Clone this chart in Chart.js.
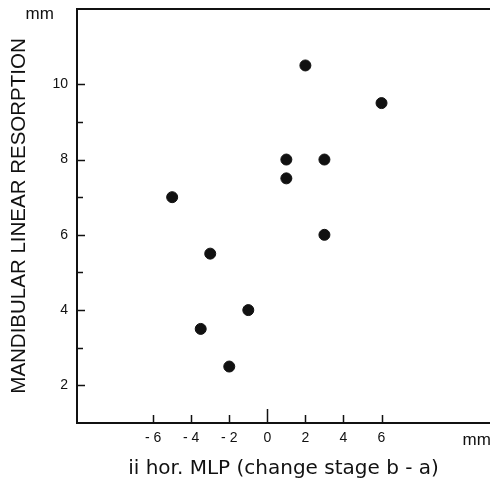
<!DOCTYPE html>
<html>
<head>
<meta charset="utf-8">
<script src="https://cdn.jsdelivr.net/npm/chart.js@4.4.0/dist/chart.umd.min.js"></script>
<style>
  html, body { margin: 0; padding: 0; background: #fff; }
  #wrap { width: 490px; height: 485px; }
</style>
</head>
<body>
<div id="wrap"><canvas id="c"></canvas></div>
<script>
// change stage b - a (mm) vs mandibular linear resorption (mm)
const changeBA   = [-5, -3, -3.5, -2, -1, 1, 1, 2, 3, 3, 6];
const resorption = [7, 5.5, 3.5, 2.5, 4, 8, 7.5, 10.5, 8, 6, 9.5];

const xTickValues = [-6, -4, -2, 0, 2, 4, 6];
const yTickValues = [2, 4, 6, 8, 10];
const yMinorTicks = [3, 5, 7, 9];
const unitLabel = 'mm';
const xUnitAt = 11;
const yUnitAt = 11.85;

const ink = '#111';
const fontFam = '"Liberation Sans", Arial, sans-serif';

// ticks pointing into the plot + top frame line
const insideTicks = {
    id: 'insideTicks',
    afterDraw(chart) {
        const { ctx, chartArea: a, scales: { x, y } } = chart;
        ctx.save();
        ctx.strokeStyle = ink;
        ctx.lineWidth = 1.5;
        ctx.beginPath();
        xTickValues.forEach(v => {
            const px = Math.round(x.getPixelForValue(v)) + 0.5;
            ctx.moveTo(px, a.bottom);
            ctx.lineTo(px, a.bottom - (v === 0 ? 14 : 8));
        });
        yTickValues.forEach(v => {
            const py = Math.round(y.getPixelForValue(v)) + 0.5;
            ctx.moveTo(a.left, py);
            ctx.lineTo(a.left + 8, py);
        });
        yMinorTicks.forEach(v => {
            const py = Math.round(y.getPixelForValue(v)) + 0.5;
            ctx.moveTo(a.left, py);
            ctx.lineTo(a.left + 6, py);
        });
        ctx.stroke();
        ctx.lineWidth = 2;
        ctx.beginPath();
        ctx.moveTo(a.left, a.top);
        ctx.lineTo(chart.width, a.top);
        ctx.stroke();
        ctx.restore();
    }
};

new Chart(document.getElementById('c'), {
    type: 'scatter',
    data: {
        datasets: [{
            data: changeBA.map((v, i) => ({ x: v, y: resorption[i] })),
            backgroundColor: ink,
            borderColor: ink,
            pointRadius: 5.5,
            pointHoverRadius: 5.5
        }]
    },
    options: {
        responsive: true,
        maintainAspectRatio: false,
        animation: false,
        layout: { autoPadding: false, padding: { top: 9, right: 0, left: 0, bottom: 0 } },
        plugins: { legend: { display: false }, tooltip: { enabled: false } },
        scales: {
            x: {
                type: 'linear',
                min: -10,
                max: 11.7,
                afterBuildTicks: s => { s.ticks = [...xTickValues, xUnitAt].map(v => ({ value: v })); },
                afterFit: s => { s.height = 62; s.paddingLeft = 0; s.paddingRight = 0; },
                grid: { drawOnChartArea: false, drawTicks: false },
                border: { color: ink, width: 2 },
                ticks: {
                    color: ink,
                    padding: 7,
                    autoSkip: false,
                    maxRotation: 0,
                    font: c => ({ family: fontFam, size: c.tick && c.tick.value === xUnitAt ? 17 : 14 }),
                    callback: v => v === xUnitAt ? unitLabel : (v < 0 ? '- ' + Math.abs(v) : String(v))
                },
                title: {
                    display: true,
                    text: 'ii hor. MLP (change stage b - a)',
                    color: ink,
                    font: { family: '"DejaVu Sans", sans-serif', size: 20 },
                    padding: { top: 0, bottom: 4 }
                }
            },
            y: {
                type: 'linear',
                min: 1,
                max: 12,
                afterBuildTicks: s => { s.ticks = [...yTickValues, yUnitAt].map(v => ({ value: v })); },
                afterFit: s => { s.width = 77; s.paddingTop = 0; s.paddingBottom = 0; },
                grid: { drawOnChartArea: false, drawTicks: false },
                border: { color: ink, width: 2 },
                ticks: {
                    color: ink,
                    padding: 9,
                    font: c => ({ family: fontFam, size: c.tick && c.tick.value === yUnitAt ? 17 : 14 }),
                    callback: v => v === yUnitAt ? unitLabel + '   ' : String(v)
                },
                title: {
                    display: true,
                    text: 'MANDIBULAR LINEAR RESORPTION',
                    color: ink,
                    font: { family: fontFam, size: 20.5 },
                    padding: { top: 7, bottom: 0 }
                }
            }
        }
    },
    plugins: [insideTicks]
});
</script>
</body>
</html>
